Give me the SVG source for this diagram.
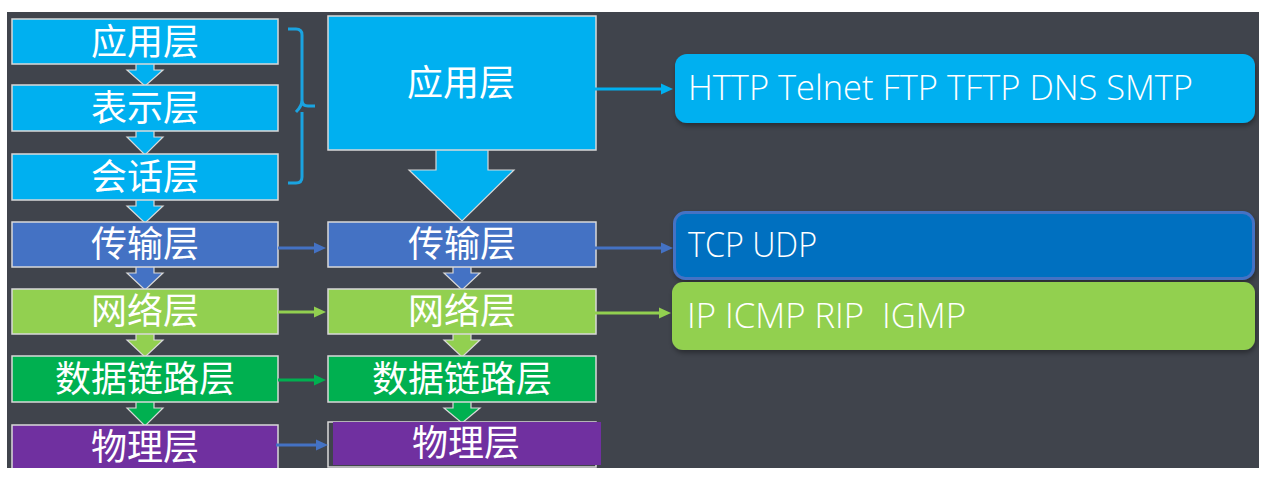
<svg xmlns="http://www.w3.org/2000/svg" width="1270" height="481" viewBox="0 0 1270 481">
<style>
.box{stroke:#d9d9d9;stroke-width:1.5}
.cn{font-family:"Noto Sans CJK SC","Microsoft YaHei",sans-serif;font-size:36px;fill:#ffffff;text-anchor:middle;dominant-baseline:central}
.en{font-family:"Open Sans","Segoe UI","Liberation Sans",sans-serif;font-size:35px;font-weight:300;fill:#ffffff}
.darr{stroke:#d9d9d9;stroke-width:1.2}
.ln{fill:none;stroke-width:3}
.c1{fill:#00b0f0}.c2{fill:#4472c4}.c3{fill:#92d050}.c4{fill:#00b050}.c5{fill:#7030a0}
</style>
<defs>
<clipPath id="clip"><rect x="7" y="12" width="1252" height="456"/></clipPath>
<marker id="m1" viewBox="0 0 12 12" refX="2" refY="6" markerWidth="12" markerHeight="12" markerUnits="userSpaceOnUse" orient="auto"><path d="M0,0.5 L12,6 L0,11.5 z" fill="#00b0f0"/></marker>
<marker id="m2" viewBox="0 0 12 12" refX="2" refY="6" markerWidth="12" markerHeight="12" markerUnits="userSpaceOnUse" orient="auto"><path d="M0,0.5 L12,6 L0,11.5 z" fill="#4472c4"/></marker>
<marker id="m3" viewBox="0 0 12 12" refX="2" refY="6" markerWidth="12" markerHeight="12" markerUnits="userSpaceOnUse" orient="auto"><path d="M0,0.5 L12,6 L0,11.5 z" fill="#92d050"/></marker>
<marker id="m4" viewBox="0 0 12 12" refX="2" refY="6" markerWidth="12" markerHeight="12" markerUnits="userSpaceOnUse" orient="auto"><path d="M0,0.5 L12,6 L0,11.5 z" fill="#00b050"/></marker>
<filter id="sh" x="-5%" y="-20%" width="110%" height="150%"><feDropShadow dx="1" dy="3" stdDeviation="2.5" flood-color="#000" flood-opacity="0.35"/></filter>
</defs>
<rect width="1270" height="481" fill="#ffffff"/>
<rect x="7" y="12" width="1252" height="456" fill="#40444c"/>
<g clip-path="url(#clip)">
<g id="down-arrows">
<polygon class="darr c1" points="136,63 154,63 154,70 163,70 145,86 127,70 136,70"/>
<polygon class="darr c1" points="136,130 154,130 154,137 163,137 145,155 127,137 136,137"/>
<polygon class="darr c1" points="136,199 154,199 154,206 163,206 145,223 127,206 136,206"/>
<polygon class="darr c2" points="136,266 154,266 154,273 163,273 145,290 127,273 136,273"/>
<polygon class="darr c3" points="136,333 154,333 154,340 163,340 145,357 127,340 136,340"/>
<polygon class="darr c4" points="136,401 154,401 154,408 163,408 145,426 127,408 136,408"/>
<polygon class="darr c1" points="436,149 488,149 488,170 514,170 462,221 409,170 436,170"/>
<polygon class="darr c2" points="453,266 471,266 471,273 480,273 462,290 444,273 453,273"/>
<polygon class="darr c3" points="453,333 471,333 471,340 480,340 462,357 444,340 453,340"/>
<polygon class="darr c4" points="453,401 471,401 471,408 480,408 462,423 444,408 453,408"/>
</g>
<g id="l-app"><rect class="box c1" x="12" y="19" width="266" height="45"/><text class="cn" x="145" y="39">应用层</text></g>
<g id="l-pres"><rect class="box c1" x="12" y="85" width="266" height="46"/><text class="cn" x="145" y="105">表示层</text></g>
<g id="l-sess"><rect class="box c1" x="12" y="154" width="266" height="46"/><text class="cn" x="145" y="174">会话层</text></g>
<g id="l-trans"><rect class="box c2" x="12" y="222" width="266" height="45"/><text class="cn" x="145" y="241">传输层</text></g>
<g id="l-net"><rect class="box c3" x="12" y="289" width="266" height="45"/><text class="cn" x="145" y="308">网络层</text></g>
<g id="l-link"><rect class="box c4" x="12" y="356" width="266" height="46"/><text class="cn" x="145" y="376">数据链路层</text></g>
<g id="l-phy"><rect class="box c5" x="12" y="425" width="266" height="50"/><text class="cn" x="145" y="444">物理层</text></g>
<g id="bracket"><path d="M288,29 H296 Q302,29 302,35 V100 Q302,106 308,106 H315 M302,100 Q302,106 296,112 M302,112 V177 Q302,183 296,183 H288" fill="none" stroke="#1aa3e0" stroke-width="3"/></g>
<g id="m-app"><rect class="box c1" x="328" y="16" width="268" height="134"/><text class="cn" x="461" y="80">应用层</text></g>
<g id="m-trans"><rect class="box c2" x="328" y="222" width="268" height="45"/><text class="cn" x="462" y="241">传输层</text></g>
<g id="m-net"><rect class="box c3" x="328" y="289" width="268" height="45"/><text class="cn" x="462" y="308">网络层</text></g>
<g id="m-link"><rect class="box c4" x="328" y="356" width="268" height="46"/><text class="cn" x="462" y="376">数据链路层</text></g>
<g id="m-phy"><rect x="328" y="422" width="268" height="45" fill="none" stroke="#d9d9d9" stroke-width="1.5"/><rect class="c5" x="333" y="422" width="268" height="43"/><text class="cn" x="466" y="440">物理层</text></g>
<g id="r-app"><rect x="675" y="54" width="580" height="69" rx="12" fill="#00b0f0" filter="url(#sh)"/><text class="en" x="688" y="100" textLength="505" lengthAdjust="spacingAndGlyphs">HTTP Telnet FTP TFTP DNS SMTP</text></g>
<g id="r-trans"><rect x="674.5" y="212.5" width="579" height="66" rx="11" fill="#0070c0" stroke="#4472c4" stroke-width="3" filter="url(#sh)"/><text class="en" x="688" y="257" textLength="129" lengthAdjust="spacingAndGlyphs">TCP UDP</text></g>
<g id="r-net"><rect x="672" y="282" width="583" height="68" rx="11" fill="#92d050" filter="url(#sh)"/><text class="en" x="687" y="328" xml:space="preserve" textLength="279" lengthAdjust="spacingAndGlyphs">IP ICMP RIP  IGMP</text></g>
<g id="connectors">
<line class="ln" x1="592" y1="89" x2="663" y2="89" stroke="#00b0f0" marker-end="url(#m1)"/>
<line class="ln" x1="278" y1="248" x2="316" y2="248" stroke="#4472c4" marker-end="url(#m2)"/>
<line class="ln" x1="592" y1="248" x2="663" y2="248" stroke="#4472c4" marker-end="url(#m2)"/>
<line class="ln" x1="278" y1="312" x2="316" y2="312" stroke="#92d050" marker-end="url(#m3)"/>
<line class="ln" x1="592" y1="313" x2="661" y2="313" stroke="#92d050" marker-end="url(#m3)"/>
<line class="ln" x1="278" y1="380" x2="316" y2="380" stroke="#00b050" marker-end="url(#m4)"/>
<line class="ln" x1="276" y1="445" x2="318" y2="445" stroke="#4472c4" marker-end="url(#m2)"/>
</g>
</g>
</svg>
